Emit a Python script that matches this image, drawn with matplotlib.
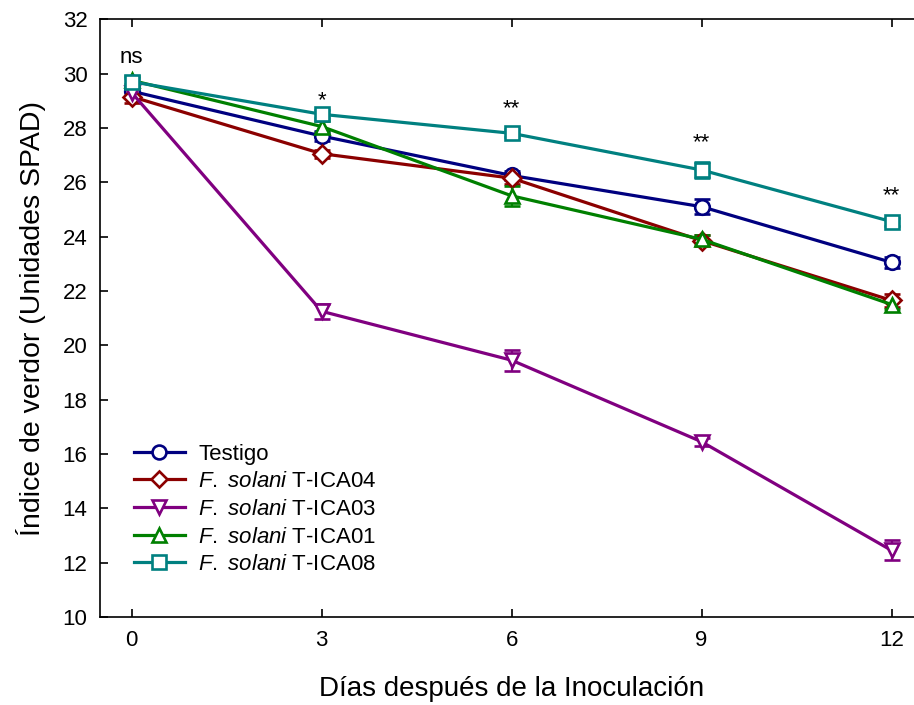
import matplotlib
matplotlib.use("Agg")
import matplotlib.pyplot as plt
from matplotlib.lines import Line2D

plt.rcParams['font.family'] = ['Liberation Sans', 'DejaVu Sans']
plt.rcParams['mathtext.fontset'] = 'custom'
plt.rcParams['mathtext.it'] = 'Liberation Sans:italic'
plt.rcParams['mathtext.rm'] = 'Liberation Sans'

days = [0, 3, 6, 9, 12]
testigo = [29.35, 27.7, 26.25, 25.1, 23.05]
testigo_err = [0.2, 0.2, 0.15, 0.27, 0.2]
ica04 = [29.15, 27.05, 26.15, 23.85, 21.65]
ica04_err = [0.25, 0.15, 0.2, 0.2, 0.25]
ica03 = [29.3, 21.25, 19.45, 16.45, 12.45]
ica03_err = [0.2, 0.28, 0.38, 0.15, 0.37]
ica01 = [29.75, 28.05, 25.5, 23.9, 21.5]
ica01_err = [0.15, 0.2, 0.37, 0.15, 0.15]
ica08 = [29.7, 28.5, 27.8, 26.45, 24.55]
ica08_err = [0.15, 0.15, 0.15, 0.28, 0.15]

series = [
    ("Testigo", testigo, testigo_err, "#000080", "o"),
    (r"$\it{F.\ solani}$ T-ICA04", ica04, ica04_err, "#8B0000", "D"),
    (r"$\it{F.\ solani}$ T-ICA03", ica03, ica03_err, "#800080", "v"),
    (r"$\it{F.\ solani}$ T-ICA01", ica01, ica01_err, "#008000", "^"),
    (r"$\it{F.\ solani}$ T-ICA08", ica08, ica08_err, "#008080", "s"),
]

sig_labels = ["ns", "*", "**", "**", "**"]
sig_y = [30.6, 29.0, 28.7, 27.45, 25.5]

fig = plt.figure(figsize=(9.14, 7.05), dpi=100)
ax = fig.add_axes([0.1094, 0.1248, 0.9007, 0.848])

handles = []
for label, vals, err, color, mk in series:
    ms = 9 if mk == "D" else 10.5
    ax.errorbar(days, vals, yerr=err, color=color, marker=mk, markersize=ms,
                markerfacecolor="white", markeredgecolor=color, markeredgewidth=1.9,
                linewidth=2.3, elinewidth=1.6, capsize=6, capthick=1.6)
    handles.append(Line2D([], [], color=color, marker=mk, markersize=ms - 0.5,
                          markerfacecolor="white", markeredgecolor=color,
                          markeredgewidth=1.9, linewidth=2.3, label=label))

for d, s, y in zip(days, sig_labels, sig_y):
    ax.text(d, y, s, ha="center", va="center", fontsize=16)

ax.set_xlim(-0.5, 12.5)
ax.set_ylim(10, 32)
ax.set_xticks(days)
ax.set_yticks(range(10, 33, 2))
ax.tick_params(direction="in", length=6, width=1.2, labelsize=16, top=True, pad=9)
ax.spines['right'].set_visible(False)
for sp in ['left', 'bottom', 'top']:
    ax.spines[sp].set_linewidth(1.2)

ax.set_xlabel("Días después de la Inoculación", fontsize=20, labelpad=18)
ax.set_ylabel("Índice de verdor (Unidades SPAD)", fontsize=20.5, labelpad=12)

leg = ax.legend(handles=handles, loc="lower left", bbox_to_anchor=(0.03, 0.055),
                frameon=False, fontsize=16, handlelength=2.3, labelspacing=0.3,
                borderaxespad=0, handletextpad=0.6)

fig.savefig("out.png", dpi=100)
